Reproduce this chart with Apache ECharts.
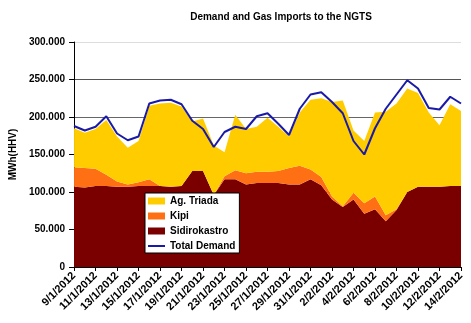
<!DOCTYPE html>
<html>
<head>
<meta charset="utf-8">
<script src="https://cdn.jsdelivr.net/npm/echarts@6/dist/echarts.min.js"></script>
<style>
html,body{margin:0;padding:0;background:#fff;}
#chart{width:471px;height:323px;}
</style>
</head>
<body>
<div id="chart"></div>
<script>
var categories = ['9/1/2012','10/1/2012','11/1/2012','12/1/2012','13/1/2012','14/1/2012','15/1/2012','16/1/2012','17/1/2012','18/1/2012','19/1/2012','20/1/2012','21/1/2012','22/1/2012','23/1/2012','24/1/2012','25/1/2012','26/1/2012','27/1/2012','28/1/2012','29/1/2012','30/1/2012','31/1/2012','1/2/2012','2/2/2012','3/2/2012','4/2/2012','5/2/2012','6/2/2012','7/2/2012','8/2/2012','9/2/2012','10/2/2012','11/2/2012','12/2/2012','13/2/2012','14/2/2012'];

var sidirokastro = [107000,106000,108000,108000,107000,107000,108000,108000,108000,107000,108000,128000,128000,96000,117000,117000,110000,112000,112000,112000,110000,110000,117000,109000,90000,80000,90000,71000,77000,61000,76000,100000,107000,107000,107000,108000,108000];
var kipi = [26000,26000,23000,15000,7000,3000,5000,9000,0,0,0,0,0,0,4000,12000,15000,15000,15000,16000,22000,25000,13000,11000,4000,1000,9000,14000,17000,8000,1000,0,0,0,0,0,0];
var agTriada = [52000,47000,53000,73000,60000,49000,55000,98000,110000,112000,106000,66000,70000,66000,32000,74000,59000,60000,72000,59000,42000,71000,93000,105000,126000,141000,83000,83000,112000,138000,141000,138000,125000,99000,82000,109000,100000];
var totalDemand = [188000,182000,187000,201000,178000,169000,174000,218000,222000,223000,217000,195000,184000,160000,180000,187000,184000,201000,205000,191000,176000,211000,230000,233000,220000,205000,168000,150000,185000,211000,230000,249000,238000,212000,210000,227000,218000];

var yTicks = [0,50000,100000,150000,200000,250000,300000];

var FONT = 'Liberation Sans, Arial, sans-serif';
function fmt(v){
  if (v === 0) return '0';
  var s = String(Math.round(v));
  return s.replace(/\B(?=(\d{3})+(?!\d))/g, '.');
}

var chart = echarts.init(document.getElementById('chart'), null, {renderer:'canvas'});
chart.setOption({
  animation: false,
  backgroundColor: '#ffffff',
  title: {
    text: 'Demand and Gas Imports to the NGTS',
    left: 276, top: 7, textAlign: 'center',
    textStyle: {fontFamily: FONT, fontSize: 10, fontWeight: 'bold', color: '#000'}
  },
  legend: {
    orient: 'vertical',
    left: 145, top: 193,
    backgroundColor: '#fff',
    borderColor: '#000', borderWidth: 1,
    padding: [2,4,1,3],
    itemWidth: 17, itemHeight: 7, itemGap: 3, itemTextGap: 4,
    symbolKeepAspect: true,
    textStyle: {fontFamily: FONT, fontSize: 10, fontWeight: 'bold', color: '#000', lineHeight: 12},
    data: [
      {name: 'Ag. Triada', icon: 'rect'},
      {name: 'Kipi', icon: 'rect'},
      {name: 'Sidirokastro', icon: 'rect'},
      {name: 'Total Demand', icon: 'path://M0,0 L34,0 L34,4 L0,4 Z'}
    ]
  },
  grid: {left: 72, right: 10, top: 42, bottom: 56, containLabel: false},
  xAxis: {
    type: 'category',
    data: categories,
    boundaryGap: false,
    axisLine: {show: true, lineStyle: {color: '#000', width: 1}},
    axisTick: {show: true, interval: 1, length: 4, lineStyle: {color: '#000'}},
    axisLabel: {interval: 1, rotate: 45, margin: 7, fontFamily: FONT, fontSize: 11, fontWeight: 'bold', color: '#000'},
    splitLine: {show: false}
  },
  yAxis: {
    type: 'value',
    min: yTicks[0], max: yTicks[yTicks.length-1], interval: 50000,
    name: 'MWh(HHV)', nameLocation: 'middle', nameGap: 56, nameRotate: 90,
    nameTextStyle: {fontFamily: FONT, fontSize: 10, fontWeight: 'bold', color: '#000'},
    axisLine: {show: true, lineStyle: {color: '#000', width: 1}},
    axisTick: {show: true, length: 5, lineStyle: {color: '#000'}},
    axisLabel: {margin: 9, fontFamily: FONT, fontSize: 10, fontWeight: 'bold', color: '#000', formatter: fmt},
    splitLine: {show: true, lineStyle: {color: ['#666','#666','#666','#666','#666','#555','#dddddd'], width: 1}}
  },
  series: [
    {name: 'Sidirokastro', type: 'line', stack: 'imp', data: sidirokastro, symbol: 'none',
     lineStyle: {width: 0}, areaStyle: {color: '#7a0000', opacity: 1}, itemStyle: {color: '#7a0000'}},
    {name: 'Kipi', type: 'line', stack: 'imp', data: kipi, symbol: 'none',
     lineStyle: {width: 0}, areaStyle: {color: '#ff7014', opacity: 1}, itemStyle: {color: '#ff7014'}},
    {name: 'Ag. Triada', type: 'line', stack: 'imp', data: agTriada, symbol: 'none',
     lineStyle: {width: 0}, areaStyle: {color: '#ffcc00', opacity: 1}, itemStyle: {color: '#ffcc00'}},
    {name: 'Total Demand', type: 'line', data: totalDemand, symbol: 'none',
     lineStyle: {width: 2, color: '#1a1aa8'}, itemStyle: {color: '#1a1aa8'}}
  ]
});
</script>
</body>
</html>
